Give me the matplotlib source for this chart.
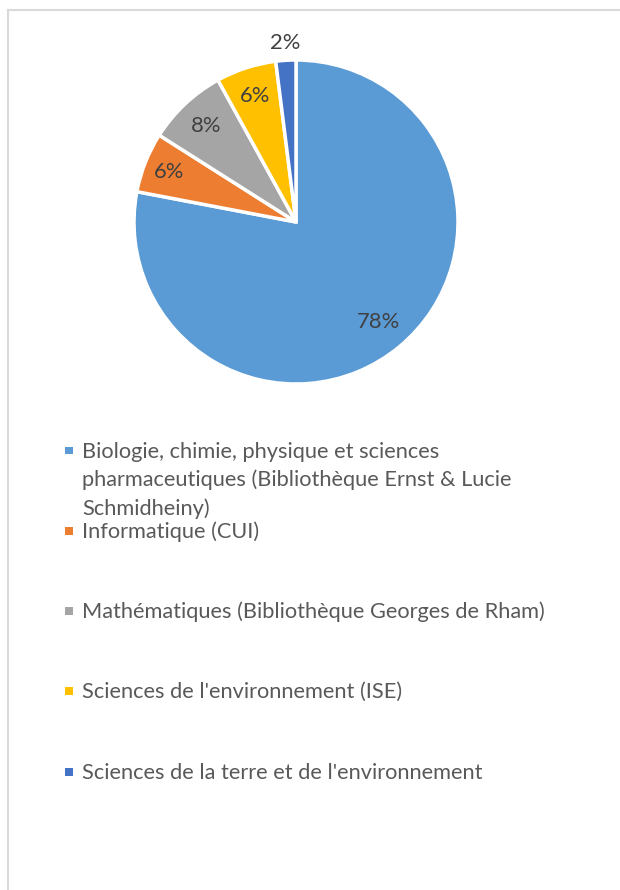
import matplotlib
matplotlib.use("Agg")
import matplotlib.pyplot as plt
import numpy as np
from matplotlib.patches import Rectangle
from matplotlib.lines import Line2D

categories = [
    "Biologie, chimie, physique et sciences\npharmaceutiques (Bibliothèque Ernst & Lucie\nSchmidheiny)",
    "Informatique (CUI)",
    "Mathématiques (Bibliothèque Georges de Rham)",
    "Sciences de l'environnement (ISE)",
    "Sciences de la terre et de l'environnement",
]
values = [78, 6, 8, 6, 2]
pct_labels = ["78%", "6%", "8%", "6%", "2%"]
colors = ["#5B9BD5", "#ED7D31", "#A5A5A5", "#FFC000", "#4472C4"]
label_dist = [0.80, 0.84, 0.81, 0.82, 1.11]

plt.rcParams['font.family'] = ['Lato', 'DejaVu Sans']

W, H = 620, 890
fig = plt.figure(figsize=(W / 100, H / 100), dpi=100)
fig.patch.set_facecolor("white")
renderer = fig.canvas.get_renderer()

def fit_size(s, target_px, base=12):
    t = fig.text(0, 0, s, fontsize=base)
    w = t.get_window_extent(renderer).width
    t.remove()
    return base * target_px / w

# pie axes: center (296, 222), radius ~162 px
R = 162
cx, cy = 296, 222
ax = fig.add_axes([(cx - R) / W, 1 - (cy + R) / H, 2 * R / W, 2 * R / H])
wedges, _ = ax.pie(values, colors=colors, startangle=90, counterclock=False,
                   wedgeprops=dict(edgecolor="white", linewidth=2.5))
ax.set_xlim(-1, 1)
ax.set_ylim(-1, 1)
ax.set_aspect("equal")
ax.axis("off")
pct_size = fit_size("78%", 43)
for w, lab, d in zip(wedges, pct_labels, label_dist):
    ang = np.deg2rad((w.theta1 + w.theta2) / 2)
    ax.text(d * np.cos(ang), d * np.sin(ang), lab, ha="center", va="center",
            fontsize=pct_size, color="#404040", clip_on=False)

# legend: baselines of each line (px from top)
leg_size = fit_size(categories[2], 463)
leg_baselines = [[458, 486.5, 515], [538], [618], [698], [779]]
for cat, col, bl in zip(categories, colors, leg_baselines):
    for line, y in zip(cat.split("\n"), bl):
        fig.text(82 / W, 1 - y / H, line, ha="left", va="baseline",
                 fontsize=leg_size, color="#595959")
    yc = bl[0] - 7
    fig.patches.append(Rectangle((65 / W, 1 - (yc + 3.5) / H), 7.5 / W, 7.5 / H,
                                 transform=fig.transFigure, facecolor=col,
                                 edgecolor="none"))

# border lines (top and left)
fig.lines.append(Line2D([8 / W, 1], [1 - 10 / H, 1 - 10 / H], transform=fig.transFigure,
                        color="#D9D9D9", linewidth=1.5))
fig.lines.append(Line2D([8 / W, 8 / W], [0, 1 - 10 / H], transform=fig.transFigure,
                        color="#D9D9D9", linewidth=1.5))

fig.savefig("out.png", dpi=100, facecolor="white")
